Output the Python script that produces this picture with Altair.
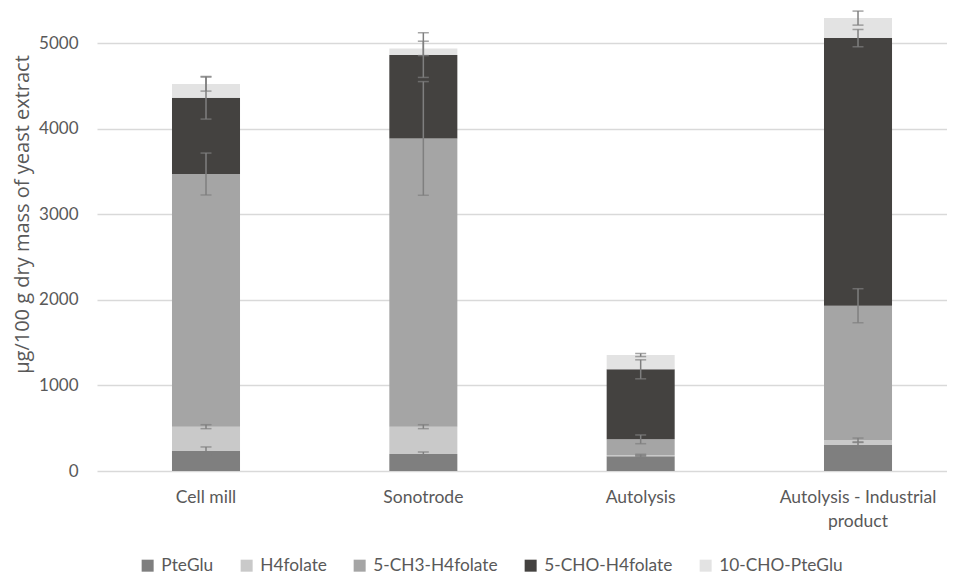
import altair as alt
import pandas as pd

categories = ["Cell mill", "Sonotrode", "Autolysis", "Autolysis - Industrial product"]
series = ["PteGlu", "H4folate", "5-CH3-H4folate", "5-CHO-H4folate", "10-CHO-PteGlu"]
colors = ["#7f7f7f", "#c9c9c9", "#a5a5a5", "#444240", "#e3e3e3"]

# segment values (µg/100 g), per category
pteglu = [234, 199, 171, 304]
h4folate = [284, 319, 14, 58]
ch3_h4folate = [2952, 3368, 185, 1569]
cho5_h4folate = [891, 974, 818, 3127]
cho10_pteglu = [160, 78, 167, 234]

# error (±) per segment
err_pteglu = [47, 23, 12, 30]
err_h4folate = [23, 23, 10, 23]
err_ch3 = [245, 664, 51, 199]
err_cho5 = [249, 261, 111, 101]
err_cho10 = [82, 84, 18, 82]

y_ticks = [0, 1000, 2000, 3000, 4000, 5000]

vals = [pteglu, h4folate, ch3_h4folate, cho5_h4folate, cho10_pteglu]
errs = [err_pteglu, err_h4folate, err_ch3, err_cho5, err_cho10]

rows = []
for ci, cat in enumerate(categories):
    base = 0
    for si, s in enumerate(series):
        top = base + vals[si][ci]
        rows.append({"cat": cat, "series": s, "order": si, "bottom": base, "top": top,
                     "lo": top - errs[si][ci], "hi": top + errs[si][ci]})
        base = top
df = pd.DataFrame(rows)

FONT = "Lato"
GREY = "#595959"

xscale = alt.Scale(domain=categories, paddingInner=0.687, paddingOuter=0.299, align=0.577)
yscale = alt.Scale(domain=[0, 5410], nice=False, zero=True)

x_axis = alt.Axis(title=None, labelAngle=0, ticks=False, domain=False, labelPadding=17,
                  labelFontSize=17.5, labelColor=GREY, labelFont=FONT, labelLineHeight=24,
                  labelExpr="datum.label == 'Autolysis - Industrial product' ? ['Autolysis - Industrial', 'product'] : datum.label")
y_axis = alt.Axis(title="µg/100 g dry mass of yeast extract", values=y_ticks, format="d",
                  ticks=False, domain=False,
                  labelPadding=19, labelFontSize=17, labelColor=GREY, labelFont=FONT,
                  gridColor="#d9d9d9", gridWidth=1.3,
                  titleFont="Open Sans", titleFontSize=20, titleFontWeight="normal", titleColor=GREY,
                  titlePadding=6, titleY=206)

bars = alt.Chart(df).mark_bar().encode(
    x=alt.X("cat:N", scale=xscale, axis=x_axis, sort=categories),
    y=alt.Y("bottom:Q", scale=yscale, axis=y_axis),
    y2="top:Q",
    color=alt.Color("series:N", scale=alt.Scale(domain=series, range=colors),
                    legend=alt.Legend(title=None, orient="none", legendX=42, legendY=549,
                                      direction="horizontal", symbolType="square", symbolSize=144,
                                      symbolStrokeWidth=0, labelFontSize=17.3, labelFont=FONT,
                                      labelColor=GREY, columnPadding=24, labelOffset=5)),
)

err_color = "#7f7f7f"
stems = alt.Chart(df).mark_rule(color=err_color, strokeWidth=1.5).encode(
    x=alt.X("cat:N", scale=xscale, sort=categories),
    y=alt.Y("lo:Q", scale=yscale),
    y2="hi:Q",
)
caps_lo = alt.Chart(df).mark_tick(color=err_color, thickness=1.5, size=11).encode(
    x=alt.X("cat:N", scale=xscale, sort=categories),
    y=alt.Y("lo:Q", scale=yscale),
)
caps_hi = alt.Chart(df).mark_tick(color=err_color, thickness=1.5, size=11).encode(
    x=alt.X("cat:N", scale=xscale, sort=categories),
    y=alt.Y("hi:Q", scale=yscale),
)

chart = alt.layer(bars, stems, caps_lo, caps_hi).properties(
    width=850, height=463,
    autosize="none",
    padding={"left": 89, "top": 0, "right": 0, "bottom": 112},
).configure_view(stroke=None)

chart.save("out.html", embed_options={"renderer": "svg", "actions": False})
